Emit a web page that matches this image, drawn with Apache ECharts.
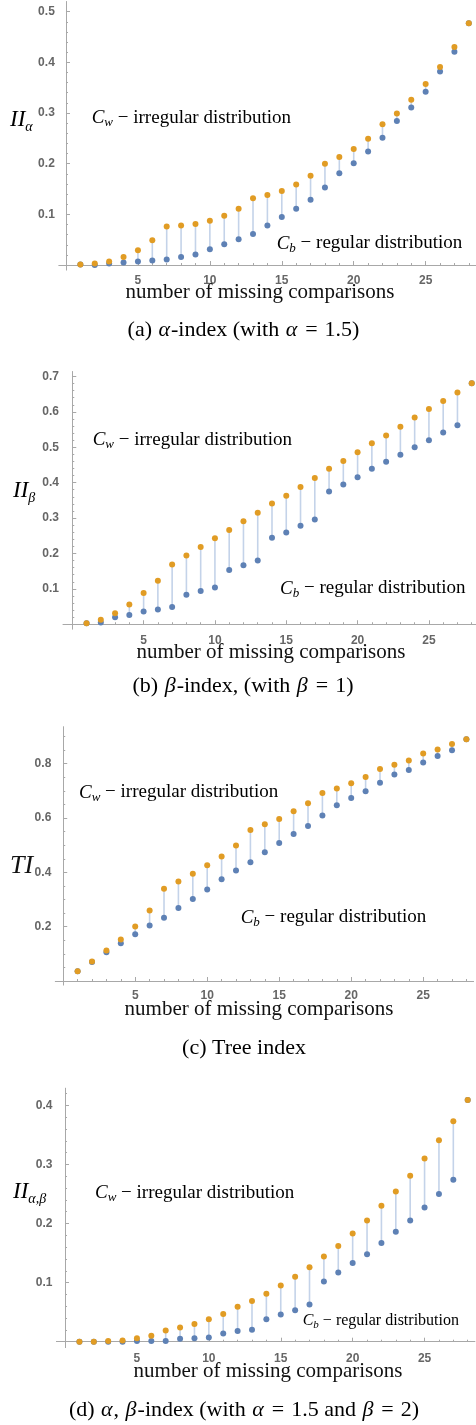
<!DOCTYPE html>
<html><head><meta charset="utf-8">
<script src="https://cdn.jsdelivr.net/npm/echarts@6/dist/echarts.min.js"></script>
<style>html,body{margin:0;padding:0;background:#fff}#c{width:476px;height:1425px}</style>
</head><body><div id="c"></div>
<script>
// ---------- data ----------
const missing = [1,2,3,4,5,6,7,8,9,10,11,12,13,14,15,16,17,18,19,20,21,22,23,24,25,26,27,28];

const alphaIrregular = [0.001,0.003,0.007,0.016,0.029,0.049,0.076,0.078,0.081,0.0875,0.097,0.111,0.132,0.138,0.146,0.159,0.176,0.200,0.213,0.229,0.249,0.278,0.299,0.326,0.357,0.391,0.430,0.477];
const alphaRegular   = [0.001,0.000,0.003,0.005,0.007,0.009,0.011,0.016,0.021,0.031,0.041,0.051,0.061,0.078,0.095,0.111,0.129,0.153,0.181,0.201,0.224,0.251,0.284,0.311,0.342,0.382,0.421,0.477];

const betaIrregular = [0.003,0.013,0.031,0.056,0.088,0.123,0.169,0.194,0.218,0.243,0.266,0.291,0.315,0.341,0.363,0.388,0.413,0.439,0.461,0.486,0.511,0.533,0.558,0.584,0.608,0.631,0.655,0.681];
const betaRegular   = [0.003,0.005,0.020,0.026,0.036,0.042,0.049,0.083,0.094,0.104,0.153,0.167,0.180,0.244,0.259,0.278,0.296,0.375,0.395,0.415,0.439,0.459,0.479,0.500,0.520,0.542,0.562,0.681];

const treeIrregular = [0.036,0.072,0.112,0.153,0.201,0.260,0.340,0.366,0.395,0.426,0.458,0.499,0.556,0.577,0.596,0.625,0.654,0.692,0.709,0.728,0.751,0.780,0.796,0.812,0.837,0.852,0.872,0.890];
const treeRegular   = [0.036,0.070,0.106,0.139,0.172,0.204,0.233,0.269,0.302,0.337,0.375,0.407,0.437,0.474,0.508,0.541,0.571,0.609,0.647,0.674,0.698,0.730,0.760,0.777,0.804,0.828,0.849,0.890];

const abIrregular = [0.000,0.000,0.001,0.002,0.006,0.010,0.019,0.024,0.030,0.038,0.047,0.059,0.069,0.081,0.095,0.110,0.126,0.144,0.162,0.183,0.205,0.230,0.254,0.281,0.310,0.341,0.373,0.409];
const abRegular   = [0.000,0.000,0.000,0.000,0.001,0.001,0.001,0.005,0.006,0.007,0.014,0.018,0.020,0.038,0.046,0.053,0.063,0.102,0.117,0.133,0.148,0.167,0.186,0.205,0.227,0.250,0.274,0.409];

// tick labels
const xTickLabels = [5,10,15,20,25];
const yTickLabelsA = [0.1,0.2,0.3,0.4,0.5];
const yTickLabelsB = [0.1,0.2,0.3,0.4,0.5,0.6,0.7];
const yTickLabelsC = [0.2,0.4,0.6,0.8];
const yTickLabelsD = [0.1,0.2,0.3,0.4];

// ---------- layout ----------
function steps(step, maxV){ const r=[]; for(let k=1;k*step<=maxV+1e-9;k++) r.push(+(k*step).toFixed(3)); return r; }
const xMinor = missing.filter(v => v % 5 !== 0);

const panels = [
  {cw: alphaIrregular, cb: alphaRegular, yMajor: yTickLabelsA, yMinor: steps(0.02,0.5),
   xMin:-0.5, xMax:28.5, yMin:-0.01, yMax:0.52, left:58.8, top:1.5, width:418.2, height:268.6},
  {cw: betaIrregular, cb: betaRegular, yMajor: yTickLabelsB, yMinor: steps(0.02,0.7),
   xMin:-0.65, xMax:28.3, yMin:-0.014, yMax:0.714, left:63, top:371.5, width:416, height:257.7},
  {cw: treeIrregular, cb: treeRegular, yMajor: yTickLabelsC, yMinor: steps(0.05,0.9),
   xMin:-0.55, xMax:28.5, yMin:-0.015, yMax:0.936, left:55.3, top:726.7, width:418.3, height:258.4},
  {cw: abIrregular, cb: abRegular, yMajor: yTickLabelsD, yMinor: steps(0.02,0.42),
   xMin:-0.6, xMax:28.5, yMin:-0.01, yMax:0.429, left:56.4, top:1088.2, width:418.5, height:259.4}
];

const AXIS = '#a8a8a8';
const LBL = {color:'#666666', fontWeight:'bold', fontSize:12, fontFamily:'"Liberation Sans", Arial, sans-serif'};
const SERIF = '"Liberation Serif", "Times New Roman", serif';
const BLUE = '#5E81B5', ORANGE = '#E19C24', LINK = '#c4d3e9';

const grid=[], xAxis=[], yAxis=[], series=[];
panels.forEach((p,i) => {
  grid.push({left:p.left, top:p.top, width:p.width, height:p.height});
  xAxis.push({type:'value', gridIndex:i, min:p.xMin, max:p.xMax, position:'bottom',
    axisLine:{onZero:true, lineStyle:{color:AXIS, width:1}},
    axisTick:{show:true, inside:true, length:4, customValues:xTickLabels, lineStyle:{color:AXIS}},
    axisLabel:Object.assign({customValues:xTickLabels, margin:5}, LBL),
    splitLine:{show:false}});
  xAxis.push({type:'value', gridIndex:i, min:p.xMin, max:p.xMax, position:'top',
    axisLine:{show:false, onZero:true},
    axisTick:{show:true, inside:false, length:2, customValues:xMinor, lineStyle:{color:AXIS}},
    axisLabel:{show:false}, splitLine:{show:false}});
  yAxis.push({type:'value', gridIndex:i, min:p.yMin, max:p.yMax, position:'left',
    axisLine:{show:true, onZero:true, lineStyle:{color:AXIS, width:1}},
    axisTick:{show:true, inside:true, length:4, customValues:p.yMajor, lineStyle:{color:AXIS}},
    axisLabel:Object.assign({customValues:p.yMajor, margin:4}, LBL),
    splitLine:{show:false}});
  yAxis.push({type:'value', gridIndex:i, min:p.yMin, max:p.yMax, position:'right',
    axisLine:{show:false, onZero:true},
    axisTick:{show:true, inside:false, length:2, customValues:p.yMinor, lineStyle:{color:AXIS}},
    axisLabel:{show:false}, splitLine:{show:false}});
  series.push({
    type:'custom', xAxisIndex:2*i, yAxisIndex:2*i, silent:true, z:1, clip:false,
    data: missing.map((x,k)=>[x, p.cb[k], p.cw[k]]),
    encode:{x:0, y:[1,2]},
    renderItem:(params, api)=>{
      const a = api.coord([api.value(0), api.value(1)]);
      const b = api.coord([api.value(0), api.value(2)]);
      return {type:'line', shape:{x1:a[0],y1:a[1],x2:b[0],y2:b[1]}, style:{stroke:LINK, lineWidth:1.6}};
    }
  });
  series.push({type:'scatter', xAxisIndex:2*i, yAxisIndex:2*i, z:2, symbolSize:6, clip:false,
    itemStyle:{color:BLUE, opacity:1}, data: missing.map((x,k)=>[x, p.cb[k]])});
  series.push({type:'scatter', xAxisIndex:2*i, yAxisIndex:2*i, z:3, symbolSize:6, clip:false,
    itemStyle:{color:ORANGE, opacity:1}, data: missing.map((x,k)=>[x, p.cw[k]])});
});

// ---------- text ----------
function annot(x, y, sub, rest, fs, sfs, pad){
  fs = fs||19; sfs = sfs||13; pad = pad==null?8:pad;
  const lh = Math.round(fs*1.26);
  return {type:'text', x:x, y:y, z:10, style:{
    text:'{i|C}{s|'+sub+'}{r|'+rest+'}', align:'left', textAlign:'left', verticalAlign:'top', textVerticalAlign:'top',
    rich:{
      i:{fontFamily:SERIF, fontSize:fs, fontStyle:'italic', lineHeight:lh, verticalAlign:'top', color:'#1c1c1c'},
      s:{fontFamily:SERIF, fontSize:sfs, fontStyle:'italic', lineHeight:sfs+3, padding:[pad,0,0,0], verticalAlign:'top', color:'#1c1c1c'},
      r:{fontFamily:SERIF, fontSize:fs, lineHeight:lh, verticalAlign:'top', color:'#1c1c1c'}
    }}};
}
function ylab(x, y, main, sub){
  const rich = {
    m:{fontFamily:SERIF, fontSize:23, fontStyle:'italic', lineHeight:27, verticalAlign:'top', color:'#111'},
    s:{fontFamily:SERIF, fontSize:14, fontStyle:'italic', lineHeight:16, padding:[12,0,0,0], verticalAlign:'top', color:'#111'}
  };
  return {type:'text', x:x, y:y, z:10, style:{text:'{m|'+main+'}'+(sub?'{s|'+sub+'}':''),
    align:'left', textAlign:'left', verticalAlign:'top', textVerticalAlign:'top', rich:rich}};
}
function plain(x, y, t, fs){
  return {type:'text', x:x, y:y, z:10, style:{text:t, font:fs+'px '+SERIF, fill:'#111',
    align:'center', textAlign:'center', verticalAlign:'middle', textVerticalAlign:'middle'}};
}
function caption(x, y, t){
  const st = {fontFamily:SERIF, fontSize:22, lineHeight:26, verticalAlign:'middle', color:'#111'};
  return {type:'text', x:x, y:y, z:10, style:{text:t, align:'center', textAlign:'center',
    verticalAlign:'middle', textVerticalAlign:'middle',
    rich:{r:st, g:Object.assign({}, st, {fontStyle:'italic', padding:[0,1,0,1]}), e:Object.assign({}, st, {padding:[0,7,0,7]})}}};
}
const AXT = 'number of missing comparisons';
const graphic = [
  ylab(10, 108, 'II', 'α'),
  annot(91.7, 108.3, 'w', ' − irregular distribution'),
  annot(276.7, 234, 'b', ' − regular distribution'),
  plain(260, 292, AXT, 21),
  caption(243.5, 330, '{r|(a) }{g|α}{r|-index (with }{g|α}{e|=}{r|1.5)}'),

  ylab(13, 479.5, 'II', 'β'),
  annot(92.7, 430.5, 'w', ' − irregular distribution'),
  annot(280, 579, 'b', ' − regular distribution'),
  plain(271, 652, AXT, 21),
  caption(243, 686, '{r|(b) }{g|β}{r|-index, (with }{g|β}{e|=}{r|1)}'),

  {type:'text', x:10, y:866, z:10, style:{text:'TI', font:'italic 26px '+SERIF, fill:'#111',
    align:'left', textAlign:'left', verticalAlign:'middle', textVerticalAlign:'middle'}},
  annot(79, 783, 'w', ' − irregular distribution'),
  annot(240.7, 908, 'b', ' − regular distribution'),
  plain(259, 1009, AXT, 21),
  caption(244, 1048, '{r|(c) Tree index}'),

  ylab(13, 1180.5, 'II', 'α,β'),
  annot(95, 1183.5, 'w', ' − irregular distribution'),
  annot(302.7, 1313, 'b', ' − regular distribution', 16, 11, 7),
  plain(268, 1371, AXT, 21),
  caption(244, 1410, '{r|(d) }{g|α}{r|, }{g|β}{r|-index (with }{g|α}{e|=}{r|1.5 and }{g|β}{e|=}{r|2)}')
];

const chart = echarts.init(document.getElementById('c'), null, {renderer:'canvas'});
chart.setOption({animation:false, backgroundColor:'#fff', grid, xAxis, yAxis, series, graphic});
</script>
</body></html>
